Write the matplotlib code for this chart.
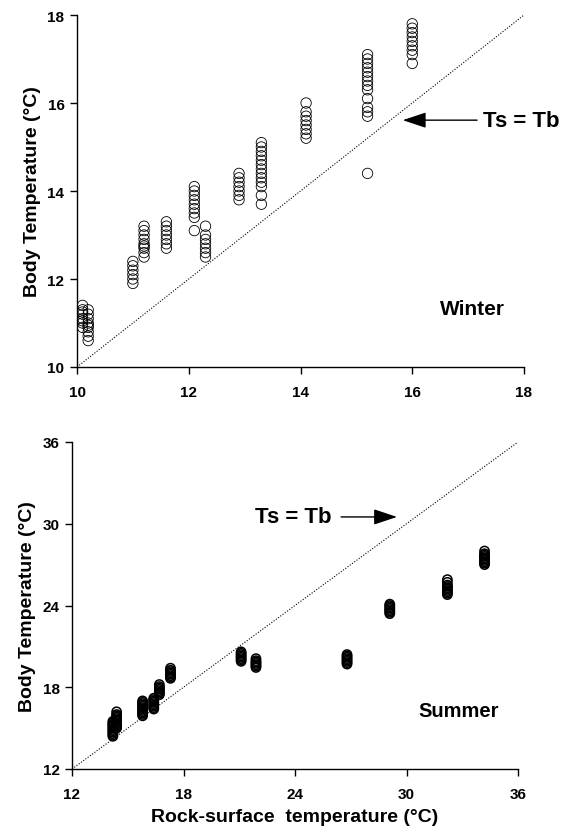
import matplotlib
matplotlib.use("Agg")
import matplotlib.pyplot as plt

plt.rcParams['font.family'] = ['Liberation Sans', 'DejaVu Sans']
plt.rcParams['font.weight'] = 'bold'

# ---------------- Winter data (rock-surface temp, body temps) ----------------
winter_x = [10.1, 10.2, 11.0, 11.2, 11.6, 12.1, 12.3, 12.9, 13.3, 14.1, 15.2, 16.0]
winter_y = [
    [11.4, 11.3, 11.25, 11.2, 11.1, 11.05, 11.0, 10.9],
    [11.3, 11.2, 11.1, 11.0, 10.95, 10.9, 10.8, 10.7, 10.6],
    [12.4, 12.3, 12.2, 12.1, 12.0, 11.9],
    [13.2, 13.1, 13.0, 12.9, 12.8, 12.75, 12.7, 12.6, 12.5],
    [13.3, 13.2, 13.1, 13.0, 12.9, 12.8, 12.7],
    [14.1, 14.0, 13.9, 13.8, 13.7, 13.6, 13.5, 13.4, 13.1],
    [13.2, 13.0, 12.9, 12.8, 12.7, 12.6, 12.5],
    [14.4, 14.3, 14.2, 14.1, 14.0, 13.9, 13.8],
    [15.1, 15.0, 14.9, 14.8, 14.7, 14.6, 14.5, 14.4, 14.3, 14.2, 14.1, 13.9, 13.7],
    [16.0, 15.8, 15.7, 15.6, 15.5, 15.4, 15.3, 15.2],
    [17.1, 17.0, 16.9, 16.8, 16.7, 16.6, 16.5, 16.4, 16.3, 16.1, 15.9, 15.8, 15.7, 14.4],
    [17.8, 17.7, 17.6, 17.5, 17.4, 17.3, 17.2, 17.1, 16.9],
]

# ---------------- Summer data ----------------
summer_x = [14.2, 14.4, 15.8, 16.4, 16.7, 17.3, 21.1, 21.9, 26.8, 29.1, 32.2, 34.2]
summer_y = [
    [14.4, 14.5, 14.6, 14.7, 14.8, 14.9, 15.0, 15.1, 15.2, 15.3, 15.4, 15.5],
    [15.0, 15.1, 15.2, 15.3, 15.4, 15.5, 15.6, 15.7, 15.8, 15.9, 16.0, 16.2],
    [15.9, 16.0, 16.1, 16.2, 16.3, 16.4, 16.5, 16.6, 16.7, 16.8, 16.9, 17.0],
    [16.4, 16.5, 16.6, 16.7, 16.8, 16.9, 17.0, 17.1, 17.2],
    [17.45, 17.55, 17.65, 17.75, 17.85, 17.95, 18.05, 18.2],
    [18.65, 18.75, 18.85, 18.95, 19.05, 19.15, 19.25, 19.4],
    [19.9, 20.0, 20.1, 20.2, 20.3, 20.4, 20.5, 20.6],
    [19.45, 19.55, 19.65, 19.75, 19.85, 19.95, 20.1],
    [19.7, 19.8, 19.9, 20.0, 20.1, 20.2, 20.3, 20.4],
    [23.4, 23.5, 23.6, 23.7, 23.8, 23.9, 24.0, 24.1],
    [24.8, 24.9, 25.0, 25.1, 25.2, 25.3, 25.4, 25.5, 25.7, 25.9],
    [27.0, 27.1, 27.2, 27.3, 27.4, 27.5, 27.6, 27.7, 27.8, 28.0],
]

winter_ticks = [10, 12, 14, 16, 18]
summer_ticks = [12, 18, 24, 30, 36]

fig = plt.figure(figsize=(5.73, 8.28), dpi=100)
ax1 = fig.add_axes([77/573, 1-368/828, (524-77)/573, (368-16)/828])
ax2 = fig.add_axes([72/573, 1-770/828, (518-72)/573, (770-443)/828])

def style(ax, ticks):
    for s in ['top', 'right']:
        ax.spines[s].set_visible(False)
    for s in ['left', 'bottom']:
        ax.spines[s].set_linewidth(1.0)
    ax.set_xlim(ticks[0], ticks[-1])
    ax.set_ylim(ticks[0], ticks[-1])
    ax.set_xticks(ticks)
    ax.set_yticks(ticks)
    ax.tick_params(direction='out', length=5, width=1.0, labelsize=11)
    ax.tick_params(axis='x', pad=8)
    ax.tick_params(axis='y', pad=4)
    for lab in ax.get_xticklabels() + ax.get_yticklabels():
        lab.set_fontweight('bold')
    ax.plot([ticks[0], ticks[-1]], [ticks[0], ticks[-1]], linestyle=(0, (1, 1.5)),
            color='k', lw=0.8)
    ax.set_ylabel('Body Temperature (°C)', fontsize=14, fontweight='bold', labelpad=5)

style(ax1, winter_ticks)
style(ax2, summer_ticks)

for x, ys in zip(winter_x, winter_y):
    ax1.scatter([x]*len(ys), ys, s=56, facecolors='none', edgecolors='k',
                linewidths=0.6, clip_on=False, zorder=3)
for x, ys in zip(summer_x, summer_y):
    ax2.scatter([x]*len(ys), ys, s=44, facecolors='none', edgecolors='k',
                linewidths=1.1, clip_on=False, zorder=3)

ax2.set_xlabel('Rock-surface  temperature (°C)', fontsize=14, fontweight='bold', labelpad=5)

# Annotations
arrow_kw = dict(arrowstyle='-|>,head_length=0.9,head_width=0.3', color='k', lw=1.0,
                mutation_scale=16, shrinkA=0, shrinkB=0)
ax1.annotate('', xy=(15.83, 15.61), xytext=(17.16, 15.61), arrowprops=arrow_kw,
             annotation_clip=False)
ax1.text(17.27, 15.61, 'Ts = Tb', fontsize=16, fontweight='bold', ha='left', va='center',
         clip_on=False)
ax1.text(16.5, 11.32, 'Winter', fontsize=15, fontweight='bold', ha='left', va='center')

ax2.annotate('', xy=(29.49, 30.5), xytext=(26.48, 30.5), arrowprops=arrow_kw,
             annotation_clip=False)
ax2.text(25.99, 30.5, 'Ts = Tb', fontsize=16, fontweight='bold', ha='right', va='center')
ax2.text(30.62, 16.26, 'Summer', fontsize=14.5, fontweight='bold', ha='left', va='center')

fig.savefig('out.png', dpi=100)
